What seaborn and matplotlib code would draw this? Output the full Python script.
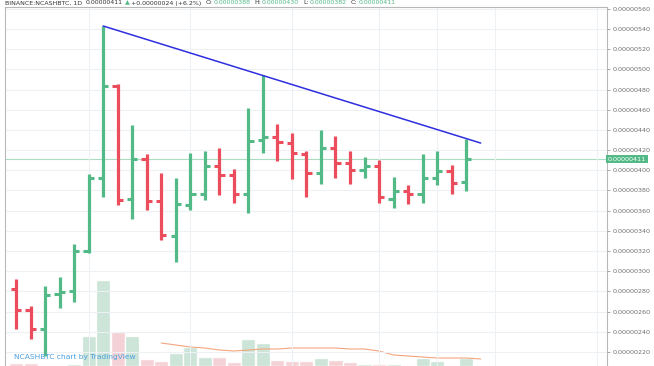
import numpy as np
import pandas as pd
import seaborn as sns
import matplotlib.pyplot as plt
from matplotlib.ticker import FuncFormatter

# prices in units of 1e-8 BTC (daily bars)
opens  = [282, 262, 243, 277, 280, 320, 392, 484, 372, 411, 370, 335, 366, 377, 404, 395,
          377, 430, 433, 427, 416, 397, 422, 407, 400, 404, 372, 379, 377, 392, 399, 388]
highs  = [292, 266, 285, 294, 327, 396, 543, 486, 445, 416, 397, 392, 417, 419, 422, 401,
          462, 494, 446, 437, 419, 440, 434, 419, 413, 410, 393, 385, 416, 419, 405, 431]
lows   = [243, 233, 216, 264, 270, 318, 374, 366, 352, 361, 331, 309, 361, 371, 376, 368,
          358, 417, 409, 391, 374, 386, 392, 386, 392, 368, 363, 367, 368, 385, 377, 379]
closes = [262, 243, 276, 279, 320, 392, 484, 371, 411, 370, 336, 367, 377, 404, 395, 377,
          429, 433, 428, 417, 397, 422, 407, 400, 404, 374, 379, 377, 392, 399, 387, 411]
volumes = [3, 3, 1, 1, 2, 30, 86, 34, 30, 7, 5, 13, 19, 9, 9, 4,
           27, 23, 6, 5, 5, 8, 6, 4, 2, 2, 2, 1, 8, 5, 1, 8]
vol_ma_start = 10
vol_ma = [23, 21, 19, 18, 16, 15, 16, 17, 17, 18, 18, 18, 18, 17, 17, 15, 11, 10, 9, 8, 8, 8, 7]
trend_x = [6, 32]
trend_y = [543, 427]
last_price = 411
price_ticks = list(range(220, 561, 20))
date_grid = [5, 12, 19, 25, 29, 33, 40]

GREEN = '#53b987'
RED = '#eb4d5c'
DARK = '#333333'

idx = np.arange(len(opens))
df = pd.DataFrame({'i': idx, 'open': opens, 'high': highs, 'low': lows,
                   'close': closes, 'volume': volumes})
df['dir'] = np.where(df['close'] >= df['open'], 'up', 'down')
colors = df['dir'].map({'up': GREEN, 'down': RED})

sns.set_style('white')
plt.rcParams['font.family'] = ['DejaVu Sans']

W, H = 654, 366
fig = plt.figure(figsize=(W / 100, H / 100), dpi=100)
ax = fig.add_axes([5 / W, 0, (607 - 5) / W, (366 - 7) / H])
vax = ax.twinx()

# volume underneath
sns.barplot(data=df, x='i', y='volume', hue='dir', palette={'up': '#c3e7d4', 'down': '#f9c6cc'},
            native_scale=True, width=0.97, dodge=False, errorbar=None, legend=False,
            alpha=0.9, ax=vax)
ma = pd.DataFrame({'i': np.arange(vol_ma_start, vol_ma_start + len(vol_ma)), 'ma': vol_ma})
sns.lineplot(data=ma, x='i', y='ma', color='#f4a57c', lw=0.8, ax=vax)
vax.set_ylim(0, 359)
vax.axis('off')
ax.set_zorder(vax.get_zorder() + 1)
ax.patch.set_visible(False)

# OHLC bars
ax.vlines(df['i'], df['low'], df['high'], colors=colors, lw=2.3)
ax.hlines(df['open'], df['i'] - 0.36, df['i'], colors=colors, lw=2.2)
ax.hlines(df['close'], df['i'], df['i'] + 0.36, colors=colors, lw=2.2)

# trend line and last price line
sns.lineplot(x=trend_x, y=trend_y, color='#2e2ee0', lw=1.1, ax=ax)
ax.axhline(last_price, color='#a9dcc1', lw=0.8, zorder=0)

ax.set_xlim(-0.76, 40.7)
ax.set_ylim(206.1, 561.8)
ax.set_yticks(price_ticks)
ax.set_xticks(date_grid)
ax.grid(True, color='#eef1f4', lw=0.8)
ax.set_axisbelow(True)
ax.yaxis.tick_right()
ax.yaxis.set_major_formatter(FuncFormatter(lambda v, p: f'{v * 1e-8:.8f}'))
ax.tick_params(axis='y', labelsize=4.6, labelcolor='#6f6f6f', color='#9a9a9a',
               length=2.2, width=0.6, pad=1.5)
ax.tick_params(axis='x', length=0, labelbottom=False)
ax.set_xlabel('')
ax.set_ylabel('')
for side in ['left', 'top', 'right']:
    ax.spines[side].set_color('#b8b8b8')
    ax.spines[side].set_linewidth(0.8)
ax.spines['bottom'].set_visible(False)

# current price tag
ax.text(1.0015, last_price, f'{last_price * 1e-8:.8f}', transform=ax.get_yaxis_transform(),
        ha='left', va='center', fontsize=4.6, color='white',
        bbox=dict(boxstyle='square,pad=0.25', fc=GREEN, ec='none'))

# header (cut off at the top), pieces chained left to right
header = [('BINANCE:NCASHBTC, 1D', DARK, 4), ('0.00000411', DARK, 2), ('▲', GREEN, 1),
          ('+0.00000024 (+6.2%)', DARK, 4), ('O:', DARK, 1), ('0.00000388', GREEN, 4),
          ('H:', DARK, 1), ('0.00000430', GREEN, 4), ('L:', DARK, 1), ('0.00000382', GREEN, 4),
          ('C:', DARK, 1), ('0.00000411', GREEN, 0)]
renderer = fig.canvas.get_renderer()
xp = 5
for s, c, gap in header:
    t = fig.text(xp / W, 1 - 4.5 / H, s, color=c, fontsize=4.5, ha='left', va='baseline')
    xp += t.get_window_extent(renderer).width + gap

fig.text(14 / W, 1 - 357 / H, 'NCASHBTC chart by TradingView', color='#4ca0e0',
         fontsize=5.4, ha='left', va='center')

fig.savefig('out.png', dpi=100)
